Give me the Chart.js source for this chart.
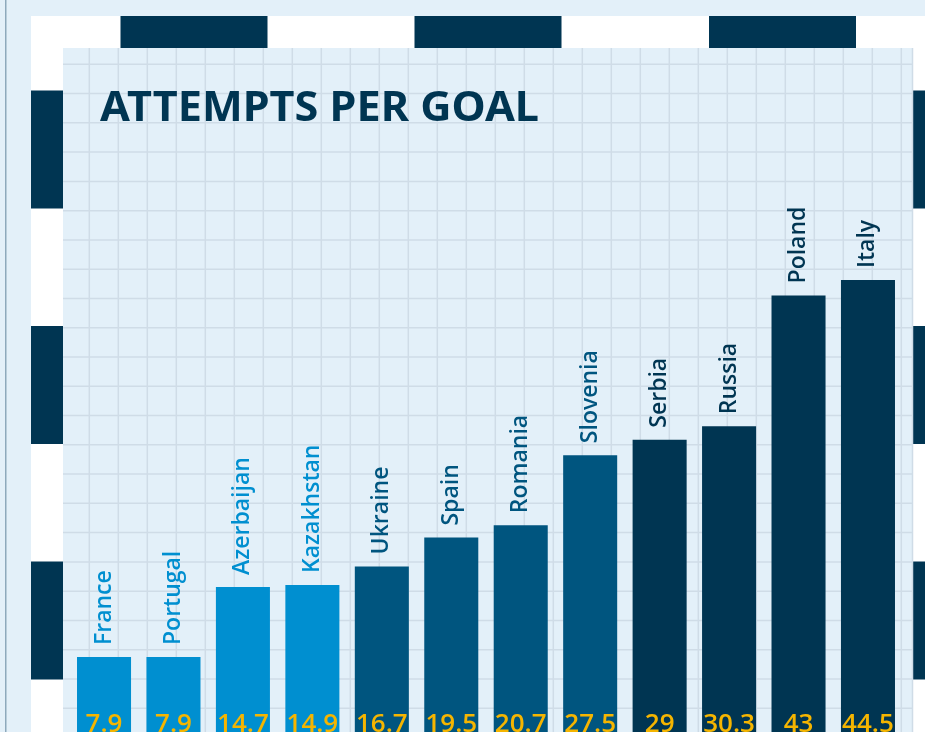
<!DOCTYPE html>
<html lang="en">
<head>
    <meta charset="UTF-8">
    <script src="https://cdn.jsdelivr.net/npm/chart.js"></script>
    <title>Attempts per goal</title>
    <style>
        html, body {
            margin: 0;
            padding: 0;
            overflow: hidden;
            background: #e3f0f9;
        }

        #grafico {
            position: absolute;
            left: 0;
            top: 0;
        }
    </style>
</head>
<body>
    <canvas id="grafico" width="925" height="760"></canvas>

<script>
    // data
    const paises = ['France', 'Portugal', 'Azerbaijan', 'Kazakhstan', 'Ukraine', 'Spain',
        'Romania', 'Slovenia', 'Serbia', 'Russia', 'Poland', 'Italy'];
    const tentativas = [7.9, 7.9, 14.7, 14.9, 16.7, 19.5, 20.7, 27.5, 29, 30.3, 43, 44.5];
    const valoresTexto = ['7.9', '7.9', '14.7', '14.9', '16.7', '19.5', '20.7', '27.5', '29', '30.3', '43', '44.5'];
    const titulo = 'ATTEMPTS PER GOAL';

    // colours
    const azulClaro = '#008fd0';
    const azulMedio = '#00557f';
    const azulEscuro = '#003552';
    const amarelo = '#f5b500';
    const coresBarras = [azulClaro, azulClaro, azulClaro, azulClaro,
        azulMedio, azulMedio, azulMedio, azulMedio,
        azulEscuro, azulEscuro, azulEscuro, azulEscuro];

    // background: pitch style frame + grid paper
    const fundo = {
        id: 'fundo',
        beforeDraw(chart) {
            const ctx = chart.ctx;
            ctx.save();
            ctx.fillStyle = '#e3f0f9';
            ctx.fillRect(0, 0, 925, 760);

            ctx.fillStyle = '#8ea9bc';
            ctx.fillRect(5, 0, 1.5, 760);

            ctx.fillStyle = '#ffffff';
            ctx.fillRect(31, 16, 894, 744);

            ctx.fillStyle = azulEscuro;
            [120.5, 414.5, 709].forEach(x => ctx.fillRect(x, 16, 147, 32));
            [90.5, 326, 561.5].forEach(y => {
                ctx.fillRect(31, y, 32, 118);
                ctx.fillRect(913, y, 12, 118);
            });

            ctx.fillStyle = '#e3f0f9';
            ctx.fillRect(63, 48, 850, 712);

            ctx.strokeStyle = '#cfdce7';
            ctx.lineWidth = 1.5;
            ctx.beginPath();
            for (let x = 89.3; x < 913; x += 29) {
                ctx.moveTo(x, 48);
                ctx.lineTo(x, 760);
            }
            ctx.moveTo(912.5, 48);
            ctx.lineTo(912.5, 760);
            for (let y = 64.3; y < 760; y += 29.27) {
                ctx.moveTo(63, y);
                ctx.lineTo(913, y);
            }
            ctx.stroke();

            // title, stretched to the width it has in the original
            ctx.fillStyle = '#003552';
            ctx.font = 'bold 41px "Noto Sans"';
            ctx.textBaseline = 'alphabetic';
            ctx.textAlign = 'left';
            const largura = ctx.measureText(titulo).width;
            ctx.translate(100, 121);
            ctx.scale(439 / largura, 1);
            ctx.fillText(titulo, 0, 0);
            ctx.restore();
        }
    };

    // country names above the bars and values at the foot
    const rotulos = {
        id: 'rotulos',
        afterDatasetsDraw(chart) {
            const ctx = chart.ctx;
            const meta = chart.getDatasetMeta(0);
            ctx.save();
            meta.data.forEach((barra, i) => {
                ctx.save();
                ctx.translate(barra.x + 6.5, barra.y - 12);
                ctx.rotate(-Math.PI / 2);
                ctx.fillStyle = coresBarras[i];
                ctx.font = '600 23px "Open Sans"';
                ctx.textAlign = 'left';
                ctx.textBaseline = 'alphabetic';
                ctx.fillText(paises[i], 0, 0);
                ctx.restore();

                ctx.fillStyle = amarelo;
                ctx.font = '600 26px "Open Sans"';
                ctx.textAlign = 'center';
                ctx.textBaseline = 'alphabetic';
                ctx.fillText(valoresTexto[i], barra.x, 731.5);
            });
            ctx.restore();
        }
    };

    new Chart(document.getElementById('grafico').getContext('2d'), {
        type: 'bar',
        data: {
            labels: paises,
            datasets: [{
                data: tentativas,
                backgroundColor: coresBarras,
                borderWidth: 0,
                categoryPercentage: 1,
                barPercentage: 0.778
            }]
        },
        options: {
            responsive: false,
            animation: false,
            layout: {
                padding: { left: 69.3, right: 22.3, top: 17.4, bottom: 21.6 }
            },
            plugins: {
                legend: { display: false },
                tooltip: { enabled: false },
                title: { display: false }
            },
            scales: {
                x: { display: false },
                y: { display: false, min: 0, max: 70 }
            }
        },
        plugins: [fundo, rotulos]
    });
</script>
</body>
</html>
